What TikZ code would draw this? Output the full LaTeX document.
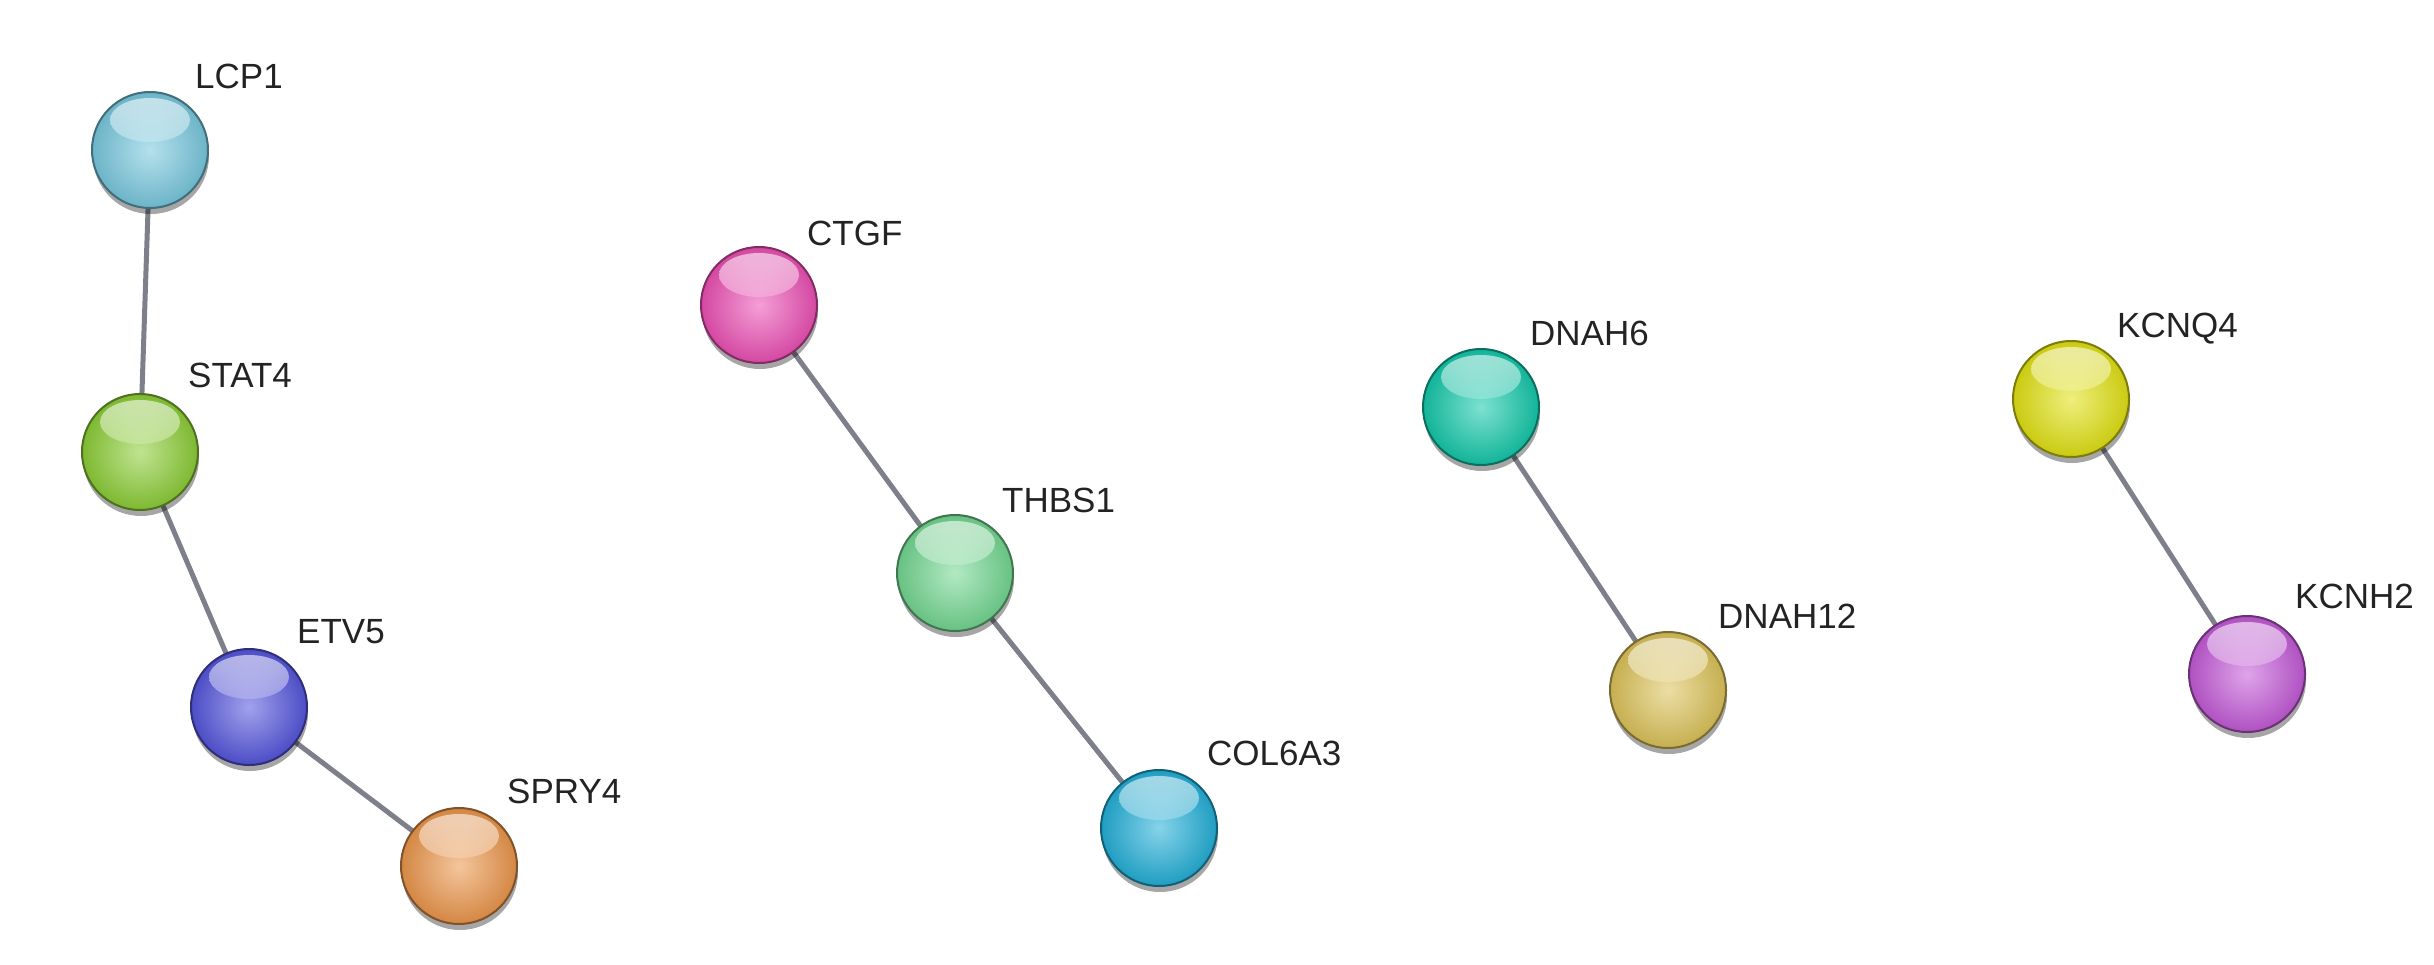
\documentclass[tikz,border=0pt]{standalone}
\usepackage{fontspec}
\newfontfamily\labfont{Liberation Sans}
\usetikzlibrary{shadows,backgrounds}
\definecolor{cLCP}{RGB}{120,200,222}
\definecolor{cSTAT}{RGB}{140,205,55}
\definecolor{cETV}{RGB}{85,85,220}
\definecolor{cSPRY}{RGB}{235,150,75}
\definecolor{cCTGF}{RGB}{235,80,180}
\definecolor{cTHBS}{RGB}{115,215,145}
\definecolor{cCOL}{RGB}{35,175,215}
\definecolor{cDNAHsix}{RGB}{20,200,170}
\definecolor{cDNAHtw}{RGB}{220,195,90}
\definecolor{cKCNQ}{RGB}{225,225,20}
\definecolor{cKCNH}{RGB}{195,90,215}
\definecolor{edgegray}{RGB}{125,128,138}
\definecolor{labgray}{RGB}{35,35,35}
\tikzset{
  ball/.style={circle, minimum size=116pt, inner sep=0pt,
    draw=#1!55!black, line width=2pt,
    inner color=#1!55!white, outer color=#1!90!black,
    drop shadow={shadow xshift=1pt, shadow yshift=-6pt, fill=black, opacity=0.35},
    path picture={
      \shade[top color=white, bottom color=#1, opacity=0.6]
        (path picture bounding box.center) ++(0pt,30pt) ellipse [x radius=40pt, y radius=22pt];
    }},
  lab/.style={anchor=base west, inner sep=0pt, text=labgray,
    font=\labfont\fontsize{35}{40}\selectfont},
  link/.style={draw=edgegray, line width=5pt}
}
\begin{document}
\begin{tikzpicture}[x=1pt,y=-1pt]
\useasboundingbox (0,0) rectangle (2434,964);
% nodes
\node[ball=cLCP] (lcp1) at (150,150) {};
\node[ball=cSTAT] (stat4) at (140,452) {};
\node[ball=cETV] (etv5) at (249,707) {};
\node[ball=cSPRY] (spry4) at (459,866) {};
\node[ball=cCTGF] (ctgf) at (759,305) {};
\node[ball=cTHBS] (thbs1) at (955,573) {};
\node[ball=cCOL] (col6a3) at (1159,828) {};
\node[ball=cDNAHsix] (dnah6) at (1481,407) {};
\node[ball=cDNAHtw] (dnah12) at (1668,690) {};
\node[ball=cKCNQ] (kcnq4) at (2071,399) {};
\node[ball=cKCNH] (kcnh2) at (2247,674) {};
% labels
\node[lab] (llcp1) at (195,88) {LCP1};
\node[lab] (lstat4) at (188,387) {STAT4};
\node[lab] (letv5) at (297,643) {ETV5};
\node[lab] (lspry4) at (507,803) {SPRY4};
\node[lab] (lctgf) at (807,245) {CTGF};
\node[lab] (lthbs1) at (1002,512) {THBS1};
\node[lab] (lcol6a3) at (1207,765) {COL6A3};
\node[lab] (ldnah6) at (1530,345) {DNAH6};
\node[lab] (ldnah12) at (1718,628) {DNAH12};
\node[lab] (lkcnq4) at (2117,337) {KCNQ4};
\node[lab] (lkcnh2) at (2295,608) {KCNH2};
% edges
\begin{pgfonlayer}{background}
\draw[link] (lcp1.center) -- (stat4.center);
\draw[link] (stat4.center) -- (etv5.center);
\draw[link] (etv5.center) -- (spry4.center);
\draw[link] (ctgf.center) -- (thbs1.center);
\draw[link] (thbs1.center) -- (col6a3.center);
\draw[link] (dnah6.center) -- (dnah12.center);
\draw[link] (kcnq4.center) -- (kcnh2.center);
\end{pgfonlayer}
\end{tikzpicture}
\end{document}
